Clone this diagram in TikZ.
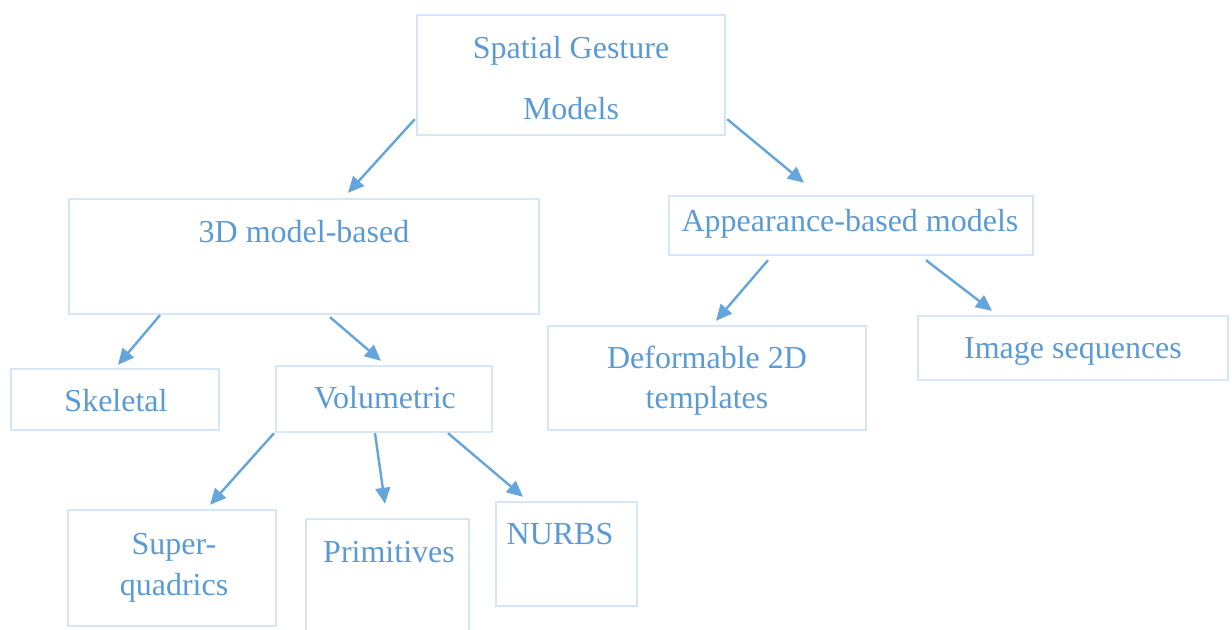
\documentclass[tikz,border=0pt]{standalone}
\usepackage{fontspec}
\setmainfont{Liberation Serif}
\usetikzlibrary{arrows.meta}
\definecolor{txtblue}{RGB}{91,155,213}
\definecolor{arrblue}{RGB}{100,165,220}
\definecolor{boxblue}{RGB}{214,230,246}
\tikzset{
  box/.style={draw=boxblue, line width=1.8pt, fill=white, inner sep=0pt},
  lbl/.style={text=txtblue, font=\fontsize{24}{28}\selectfont, inner sep=0pt, anchor=base},
  arr/.style={draw=arrblue, line width=1.8pt, -{Triangle[length=12pt,width=11pt]}}
}
\begin{document}
\begin{tikzpicture}[x=0.75pt,y=-0.75pt]
\useasboundingbox[fill=white] (0,0) rectangle (1232,630);
% boxes
\node[box, minimum width=231pt, minimum height=90pt] (sgm) at (571,75) {};
\node[box, minimum width=352.5pt, minimum height=86.25pt] (td) at (304,256.5) {};
\node[box, minimum width=273pt, minimum height=44.25pt] (app) at (851,225.5) {};
\node[box, minimum width=156pt, minimum height=45.75pt] (skel) at (115,399.5) {};
\node[box, minimum width=162pt, minimum height=49.5pt] (vol) at (384,399) {};
\node[box, minimum width=238.5pt, minimum height=78pt] (def) at (707,378) {};
\node[box, minimum width=232.5pt, minimum height=48pt] (img) at (1073,348) {};
\node[box, minimum width=156pt, minimum height=87pt] (sq) at (172,568) {};
\node[box, minimum width=122.25pt, minimum height=87.75pt] (prim) at (387.5,577.5) {};
\node[box, minimum width=105.75pt, minimum height=78pt] (nurbs) at (566.5,554) {};
% texts
\node[lbl] (sgmA) at (571,59) {Spatial Gesture};
\node[lbl] (sgmB) at (571,120) {Models};
\node[lbl] (tdA) at (304,243) {3D model-based};
\node[lbl] (appA) at (850,232) {Appearance-based models};
\node[lbl] (skelA) at (116,412) {Skeletal};
\node[lbl] (volA) at (385,409) {Volumetric};
\node[lbl] (defA) at (707,369) {Deformable 2D};
\node[lbl] (defB) at (707,409) {templates};
\node[lbl] (imgA) at (1073,359) {Image sequences};
\node[lbl] (sqA) at (174,555) {Super-};
\node[lbl] (sqB) at (174,595) {quadrics};
\node[lbl] (primA) at (389,563) {Primitives};
\node[lbl] (nurbsA) at (560,545) {NURBS};
% arrows
\draw[arr] ([shift={(-1,-17)}]sgm.south west) -- ([shift={(44,-5)}]td.north);
\draw[arr] ([shift={(1,-17)}]sgm.south east) -- ([shift={(-47,-12)}]app.north);
\draw[arr] ([shift={(-144,0)}]td.south) -- ([shift={(3,-3)}]skel.north);
\draw[arr] ([shift={(26,2)}]td.south) -- ([shift={(-3,-4)}]vol.north);
\draw[arr] ([shift={(-83,4)}]app.south) -- ([shift={(9,-4)}]def.north);
\draw[arr] ([shift={(75,4)}]app.south) -- ([shift={(-81,-4)}]img.north);
\draw[arr] ([shift={(-110,0)}]vol.south) -- ([shift={(38,-4)}]sq.north);
\draw[arr] ([shift={(-9,0)}]vol.south) -- ([shift={(-2.5,-14)}]prim.north);
\draw[arr] ([shift={(64,0)}]vol.south) -- ([shift={(-43.5,-4)}]nurbs.north);
\end{tikzpicture}
\end{document}
